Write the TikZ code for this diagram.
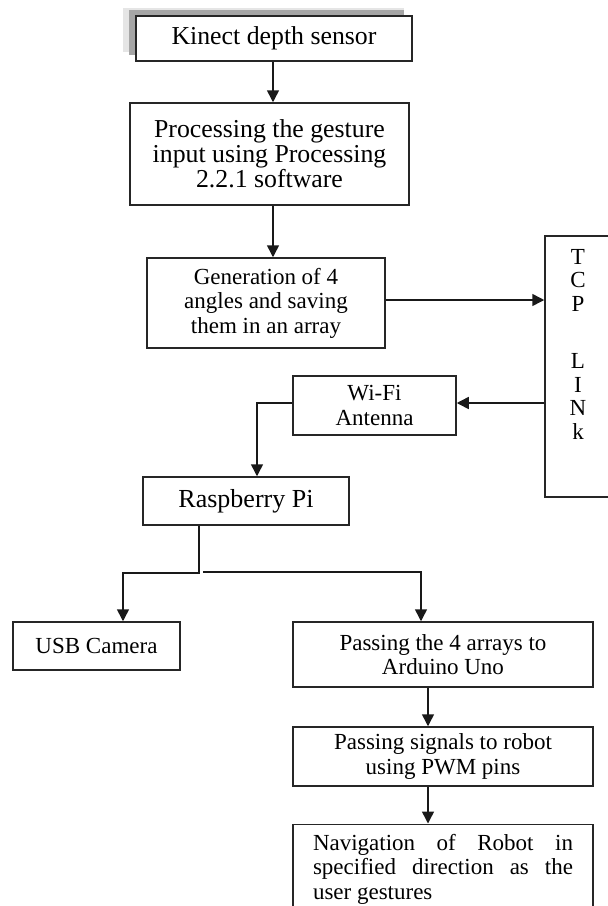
\documentclass[tikz,border=0pt]{standalone}
\usepackage{fontspec}
\setmainfont{Liberation Serif}
\usetikzlibrary{arrows.meta}
\hyphenpenalty=10000
\tolerance=10000
\begin{document}
\begin{tikzpicture}[x=1pt,y=-1pt,
  box/.style={draw=black!85,line width=1.5pt,fill=white,inner sep=2pt,align=center,
    font=\fontsize{23}{24.5}\selectfont},
  bigtxt/.style={font=\fontsize{25.8}{25}\selectfont},
  arr/.style={draw=black!90,line width=1.5pt,-{Triangle[width=12pt,length=12pt]}},
  ln/.style={draw=black!75,line width=1.5pt}]
\useasboundingbox (0,0) rectangle (608,906);
% shadow of first box
\fill[black!10] (123,8) rectangle (404,52);
\fill[black!35] (129,10) rectangle (136,55);
\fill[black!35] (129,10) rectangle (404,16);
% boxes
\node[box,bigtxt,minimum width=276pt,minimum height=45pt] (kin) at (274,38.5) {Kinect depth sensor};
\node[box,bigtxt,minimum width=279pt,minimum height=102pt] (proc) at (269.5,154) {Processing the gesture\\input using Processing\\2.2.1 software};
\node[box,minimum width=238pt,minimum height=90pt] (gen) at (266,303) {Generation of 4\\angles and saving\\them in an array};
\node[box,minimum width=66pt,minimum height=261pt] (tcp) at (578,366.5) {};
\node[anchor=north,inner sep=0pt,align=center,font=\fontsize{23}{23.5}\selectfont] (tcptxt) at (578,249) {T\\C\\P\\[34pt]L\\I\\N\\k};
\node[box,minimum width=163pt,minimum height=59pt] (wifi) at (374.5,405.5) {Wi-Fi\\Antenna};
\node[box,font=\fontsize{26}{26}\selectfont,minimum width=206pt,minimum height=48pt] (rasp) at (246,501) {Raspberry Pi};
\node[box,minimum width=167pt,minimum height=48pt] (usb) at (96.5,646) {USB Camera};
\node[box,minimum width=300pt,minimum height=65pt] (pass) at (443,654.5) {Passing the 4 arrays to\\Arduino Uno};
\node[box,minimum width=300pt,minimum height=59pt] (sig) at (443,756.5) {Passing signals to robot\\using PWM pins};
\node[box,anchor=north,minimum width=300pt,text width=260pt,align=justify,inner xsep=20pt,inner ysep=10pt] (nav) at (443,823.5) {Navigation of Robot in specified direction as the user gestures};
% connector coordinates
\coordinate (kx) at (273,0);
\coordinate (gy) at (0,300);
\coordinate (wy) at (0,403);
\coordinate (wk) at (257,403);
\coordinate (rx) at (199,0);
\coordinate (j1) at (199,573);
\coordinate (j2) at (123,573);
\coordinate (j3) at (203,572);
\coordinate (j4) at (421,572);
\coordinate (ax) at (428,0);
% connectors
\draw[arr] (kin.south -| kx) -- (proc.north -| kx);
\draw[arr] (proc.south -| kx) -- (gen.north -| kx);
\draw[arr] (gen.east |- gy) -- (tcp.west |- gy);
\draw[arr] (tcp.west |- wy) -- (wifi.east |- wy);
\draw[arr] (wifi.west |- wy) -- (wk) -- (rasp.north -| wk);
\draw[arr] (rasp.south -| rx) -- (j1) -- (j2) -- (usb.north -| j2);
\draw[arr] (j3) -- (j4) -- (pass.north -| j4);
\draw[arr] (pass.south -| ax) -- (sig.north -| ax);
\draw[arr] (sig.south -| ax) -- (nav.north -| ax);
\end{tikzpicture}
\end{document}
